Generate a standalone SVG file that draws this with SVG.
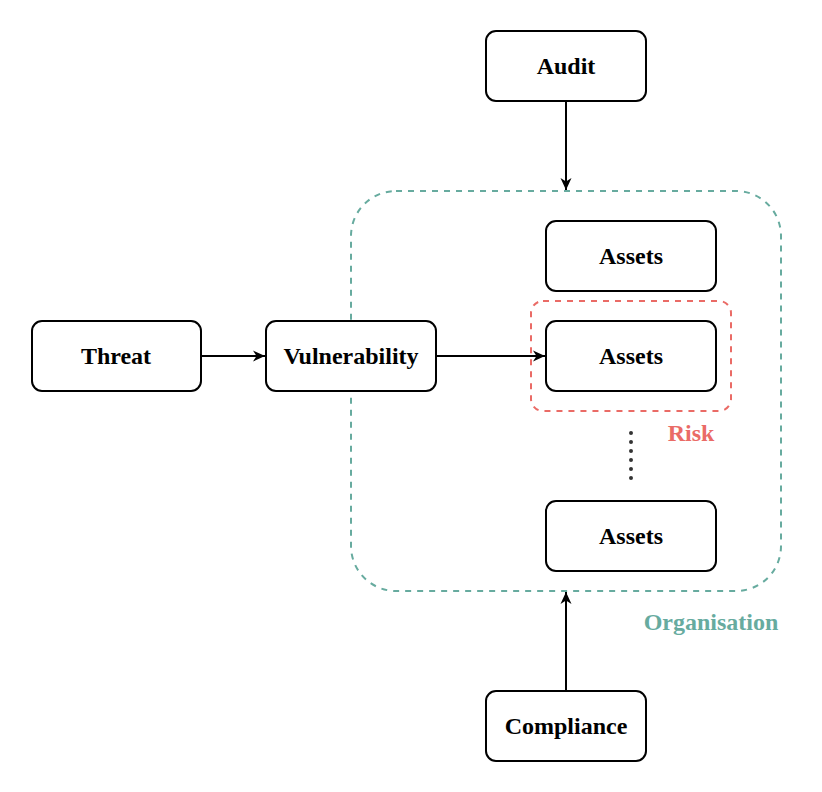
<svg xmlns="http://www.w3.org/2000/svg" width="822" height="792" viewBox="0 0 822 792">
<style>
.box{fill:#fff;stroke:#000;stroke-width:2}
.lbl{font-family:"Liberation Serif","Times New Roman",serif;font-weight:bold;font-size:24px;text-anchor:middle;dominant-baseline:central;fill:#000}
.edge{stroke:#000;stroke-width:2;fill:none}
</style>
<defs>
<marker id="arr" viewBox="0 0 14 14" refX="13" refY="7" markerWidth="14" markerHeight="14" markerUnits="userSpaceOnUse" orient="auto">
<path d="M1,1.5 L13,7 L1,12.5 L4.5,7 Z" fill="#000"/>
</marker>
</defs>
<rect width="822" height="792" fill="#fff"/>
<g id="organisation">
<rect x="351" y="191" width="430" height="400" rx="45" fill="none" stroke="#67AB9F" stroke-width="2" stroke-dasharray="6 6"/>
<text x="711" y="622" class="lbl" style="fill:#67AB9F">Organisation</text>
</g>
<g id="risk">
<rect x="531" y="301" width="200" height="110" rx="12" fill="none" stroke="#EA6B66" stroke-width="2" stroke-dasharray="6 6"/>
<text x="691" y="433" class="lbl" style="fill:#EA6B66">Risk</text>
</g>
<g id="connectors">
<line class="edge" x1="566" y1="101" x2="566" y2="190" marker-end="url(#arr)"/>
<line class="edge" x1="566" y1="691" x2="566" y2="592" marker-end="url(#arr)"/>
<line class="edge" x1="201" y1="356" x2="265" y2="356" marker-end="url(#arr)"/>
<line class="edge" x1="436" y1="356" x2="545" y2="356" marker-end="url(#arr)"/>
<line x1="631" y1="433" x2="631" y2="479" stroke="#333" stroke-width="4" stroke-linecap="round" stroke-dasharray="0 9"/>
</g>
<g id="audit"><rect class="box" x="486" y="31" width="160" height="70" rx="10"/><text class="lbl" x="566" y="66">Audit</text></g>
<g id="assets1"><rect class="box" x="546" y="221" width="170" height="70" rx="10"/><text class="lbl" x="631" y="256">Assets</text></g>
<g id="assets2"><rect class="box" x="546" y="321" width="170" height="70" rx="10"/><text class="lbl" x="631" y="356">Assets</text></g>
<g id="assets3"><rect class="box" x="546" y="501" width="170" height="70" rx="10"/><text class="lbl" x="631" y="536">Assets</text></g>
<g id="threat"><rect class="box" x="32" y="321" width="169" height="70" rx="10"/><text class="lbl" x="116" y="356">Threat</text></g>
<g id="vulnerability"><rect class="box" x="266" y="321" width="170" height="70" rx="10"/><text class="lbl" x="351" y="356">Vulnerability</text></g>
<g id="compliance"><rect class="box" x="486" y="691" width="160" height="70" rx="10"/><text class="lbl" x="566" y="726">Compliance</text></g>
</svg>
